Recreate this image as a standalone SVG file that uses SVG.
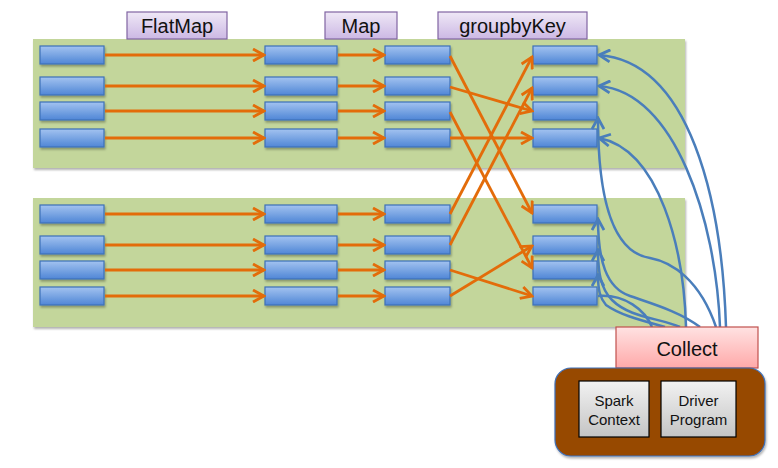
<svg xmlns="http://www.w3.org/2000/svg" width="778" height="468" viewBox="0 0 778 468">
<defs>
<linearGradient id="gBlue" x1="0" y1="0" x2="0" y2="1"><stop offset="0" stop-color="#a3c3f0"/><stop offset="1" stop-color="#4f86d6"/></linearGradient>
<linearGradient id="gHead" x1="0" y1="0" x2="0" y2="1"><stop offset="0" stop-color="#efe8f6"/><stop offset="1" stop-color="#ccb8e4"/></linearGradient>
<linearGradient id="gCollect" x1="0" y1="0" x2="0" y2="1"><stop offset="0" stop-color="#ffe2e2"/><stop offset="1" stop-color="#ffa9a9"/></linearGradient>
<linearGradient id="gGray" x1="0" y1="0" x2="0" y2="1"><stop offset="0" stop-color="#f2f2f2"/><stop offset="1" stop-color="#c4c4c4"/></linearGradient>
<filter id="sh" x="-20%" y="-20%" width="140%" height="160%"><feDropShadow dx="1" dy="2" stdDeviation="1.2" flood-color="#000" flood-opacity="0.3"/></filter>
<marker id="ao" viewBox="0 0 14 14" refX="12" refY="7" markerWidth="14" markerHeight="14" markerUnits="userSpaceOnUse" orient="auto"><path d="M1,1 L12,7 L1,13" fill="none" stroke="#e36c0a" stroke-width="2.8"/></marker>
<marker id="ab" viewBox="0 0 14 14" refX="12" refY="7" markerWidth="14" markerHeight="14" markerUnits="userSpaceOnUse" orient="auto"><path d="M1,1 L12,7 L1,13" fill="none" stroke="#4a7ebb" stroke-width="2.8"/></marker>
</defs>
<style>
.panel{fill:#c3d69b;filter:url(#sh)}
.blk{fill:url(#gBlue);stroke:#3d70b8;stroke-width:1.2;filter:url(#sh)}
.head{fill:url(#gHead);stroke:#8064a2;stroke-width:1.2}
.t{font-family:"Liberation Sans",Arial,sans-serif;fill:#111;text-anchor:middle}
.or{stroke:#e36c0a;stroke-width:2.8;fill:none;marker-end:url(#ao)}
.bl{stroke:#4a7ebb;stroke-width:2.5;fill:none;marker-end:url(#ab)}
.bln{stroke:#4a7ebb;stroke-width:2.5;fill:none}
</style>
<rect x="0" y="0" width="778" height="468" fill="#fff"/>
<g id="panels">
<rect class="panel" x="33" y="39" width="652" height="129"/>
<rect class="panel" x="33" y="198" width="652" height="129"/>
</g>
<g id="headers">
<g id="h-flatmap"><rect class="head" x="127" y="12" width="100" height="27"/><text class="t" x="177" y="33" font-size="20">FlatMap</text></g>
<g id="h-map"><rect class="head" x="325" y="12" width="72" height="27"/><text class="t" x="361" y="33" font-size="20">Map</text></g>
<g id="h-group"><rect class="head" x="438" y="12" width="149" height="27"/><text class="t" x="512.5" y="33" font-size="20">groupbyKey</text></g>
</g>
<g id="nodes">
<g id="c1"><rect class="blk" x="40" y="46" width="64" height="18"/><rect class="blk" x="40" y="77" width="64" height="18"/><rect class="blk" x="40" y="102" width="64" height="18"/><rect class="blk" x="40" y="129" width="64" height="18"/><rect class="blk" x="40" y="205" width="64" height="18"/><rect class="blk" x="40" y="236" width="64" height="18"/><rect class="blk" x="40" y="261" width="64" height="18"/><rect class="blk" x="40" y="287" width="64" height="18"/></g>
<g id="c2"><rect class="blk" x="265" y="46" width="72" height="18"/><rect class="blk" x="265" y="77" width="72" height="18"/><rect class="blk" x="265" y="102" width="72" height="18"/><rect class="blk" x="265" y="129" width="72" height="18"/><rect class="blk" x="265" y="205" width="72" height="18"/><rect class="blk" x="265" y="236" width="72" height="18"/><rect class="blk" x="265" y="261" width="72" height="18"/><rect class="blk" x="265" y="287" width="72" height="18"/></g>
<g id="c3"><rect class="blk" x="385" y="46" width="65" height="18"/><rect class="blk" x="385" y="77" width="65" height="18"/><rect class="blk" x="385" y="102" width="65" height="18"/><rect class="blk" x="385" y="129" width="65" height="18"/><rect class="blk" x="385" y="205" width="65" height="18"/><rect class="blk" x="385" y="236" width="65" height="18"/><rect class="blk" x="385" y="261" width="65" height="18"/><rect class="blk" x="385" y="287" width="65" height="18"/></g>
<g id="c4"><rect class="blk" x="533" y="46" width="64" height="18"/><rect class="blk" x="533" y="77" width="64" height="18"/><rect class="blk" x="533" y="102" width="64" height="18"/><rect class="blk" x="533" y="129" width="64" height="18"/><rect class="blk" x="533" y="205" width="64" height="18"/><rect class="blk" x="533" y="236" width="64" height="18"/><rect class="blk" x="533" y="261" width="64" height="18"/><rect class="blk" x="533" y="287" width="64" height="18"/></g>
</g>
<g id="connectors">
<path class="or" d="M105,55 H264"/><path class="or" d="M105,86 H264"/><path class="or" d="M105,111 H264"/><path class="or" d="M105,138 H264"/>
<path class="or" d="M105,214 H264"/><path class="or" d="M105,245 H264"/><path class="or" d="M105,270 H264"/><path class="or" d="M105,296 H264"/>
<path class="or" d="M338,55 H384"/><path class="or" d="M338,86 H384"/><path class="or" d="M338,111 H384"/><path class="or" d="M338,138 H384"/>
<path class="or" d="M338,214 H384"/><path class="or" d="M338,245 H384"/><path class="or" d="M338,270 H384"/><path class="or" d="M338,296 H384"/>
<path class="or" d="M450,56 L532,213"/>
<path class="or" d="M450,87 L532,111"/>
<path class="or" d="M450,112 L532,268"/>
<path class="or" d="M450,138 H532"/>
<path class="or" d="M450,214 L532,57"/>
<path class="or" d="M450,245 L532,88"/>
<path class="or" d="M450,270 L532,296"/>
<path class="or" d="M450,296 L532,246"/>
<path class="bl" d="M726,327 C722,200 690,62 599,55"/>
<path class="bl" d="M720,327 C716,220 675,92 599,86"/>
<path class="bl" d="M716,327 C700,280 672,262 650,258 C610,252 598,190 598,118"/>
<path class="bl" d="M686,327 C684,250 660,150 599,138"/>
<path class="bl" d="M700,327 C680,312 656,305 630,296 C606,288 598,260 598,219"/>
<path class="bl" d="M680,327 C660,318 630,318 612,300 C600,288 598,270 598,250"/>
<path class="bl" d="M665,327 C640,320 620,315 606,305 C600,298 598,290 598,275"/>
<path class="bln" d="M598,296 C625,294 645,310 652,327"/>
</g>
<g id="collect"><rect x="616" y="327" width="142" height="41" fill="url(#gCollect)" stroke="#c0504d" stroke-width="1.2"/><text class="t" x="687" y="356" font-size="20">Collect</text></g>
<g id="driver">
<rect x="555" y="368" width="210" height="88" rx="16" fill="#974806" stroke="#3d70b8" stroke-width="1.2" filter="url(#sh)"/>
<g id="spark"><rect x="579" y="381" width="70" height="56" fill="url(#gGray)" stroke="#000" stroke-width="1.2"/><text class="t" x="614" y="406" font-size="15">Spark</text><text class="t" x="614" y="425" font-size="15">Context</text></g>
<g id="program"><rect x="661" y="381" width="75" height="56" fill="url(#gGray)" stroke="#000" stroke-width="1.2"/><text class="t" x="698.5" y="406" font-size="15">Driver</text><text class="t" x="698.5" y="425" font-size="15">Program</text></g>
</g>
</svg>
